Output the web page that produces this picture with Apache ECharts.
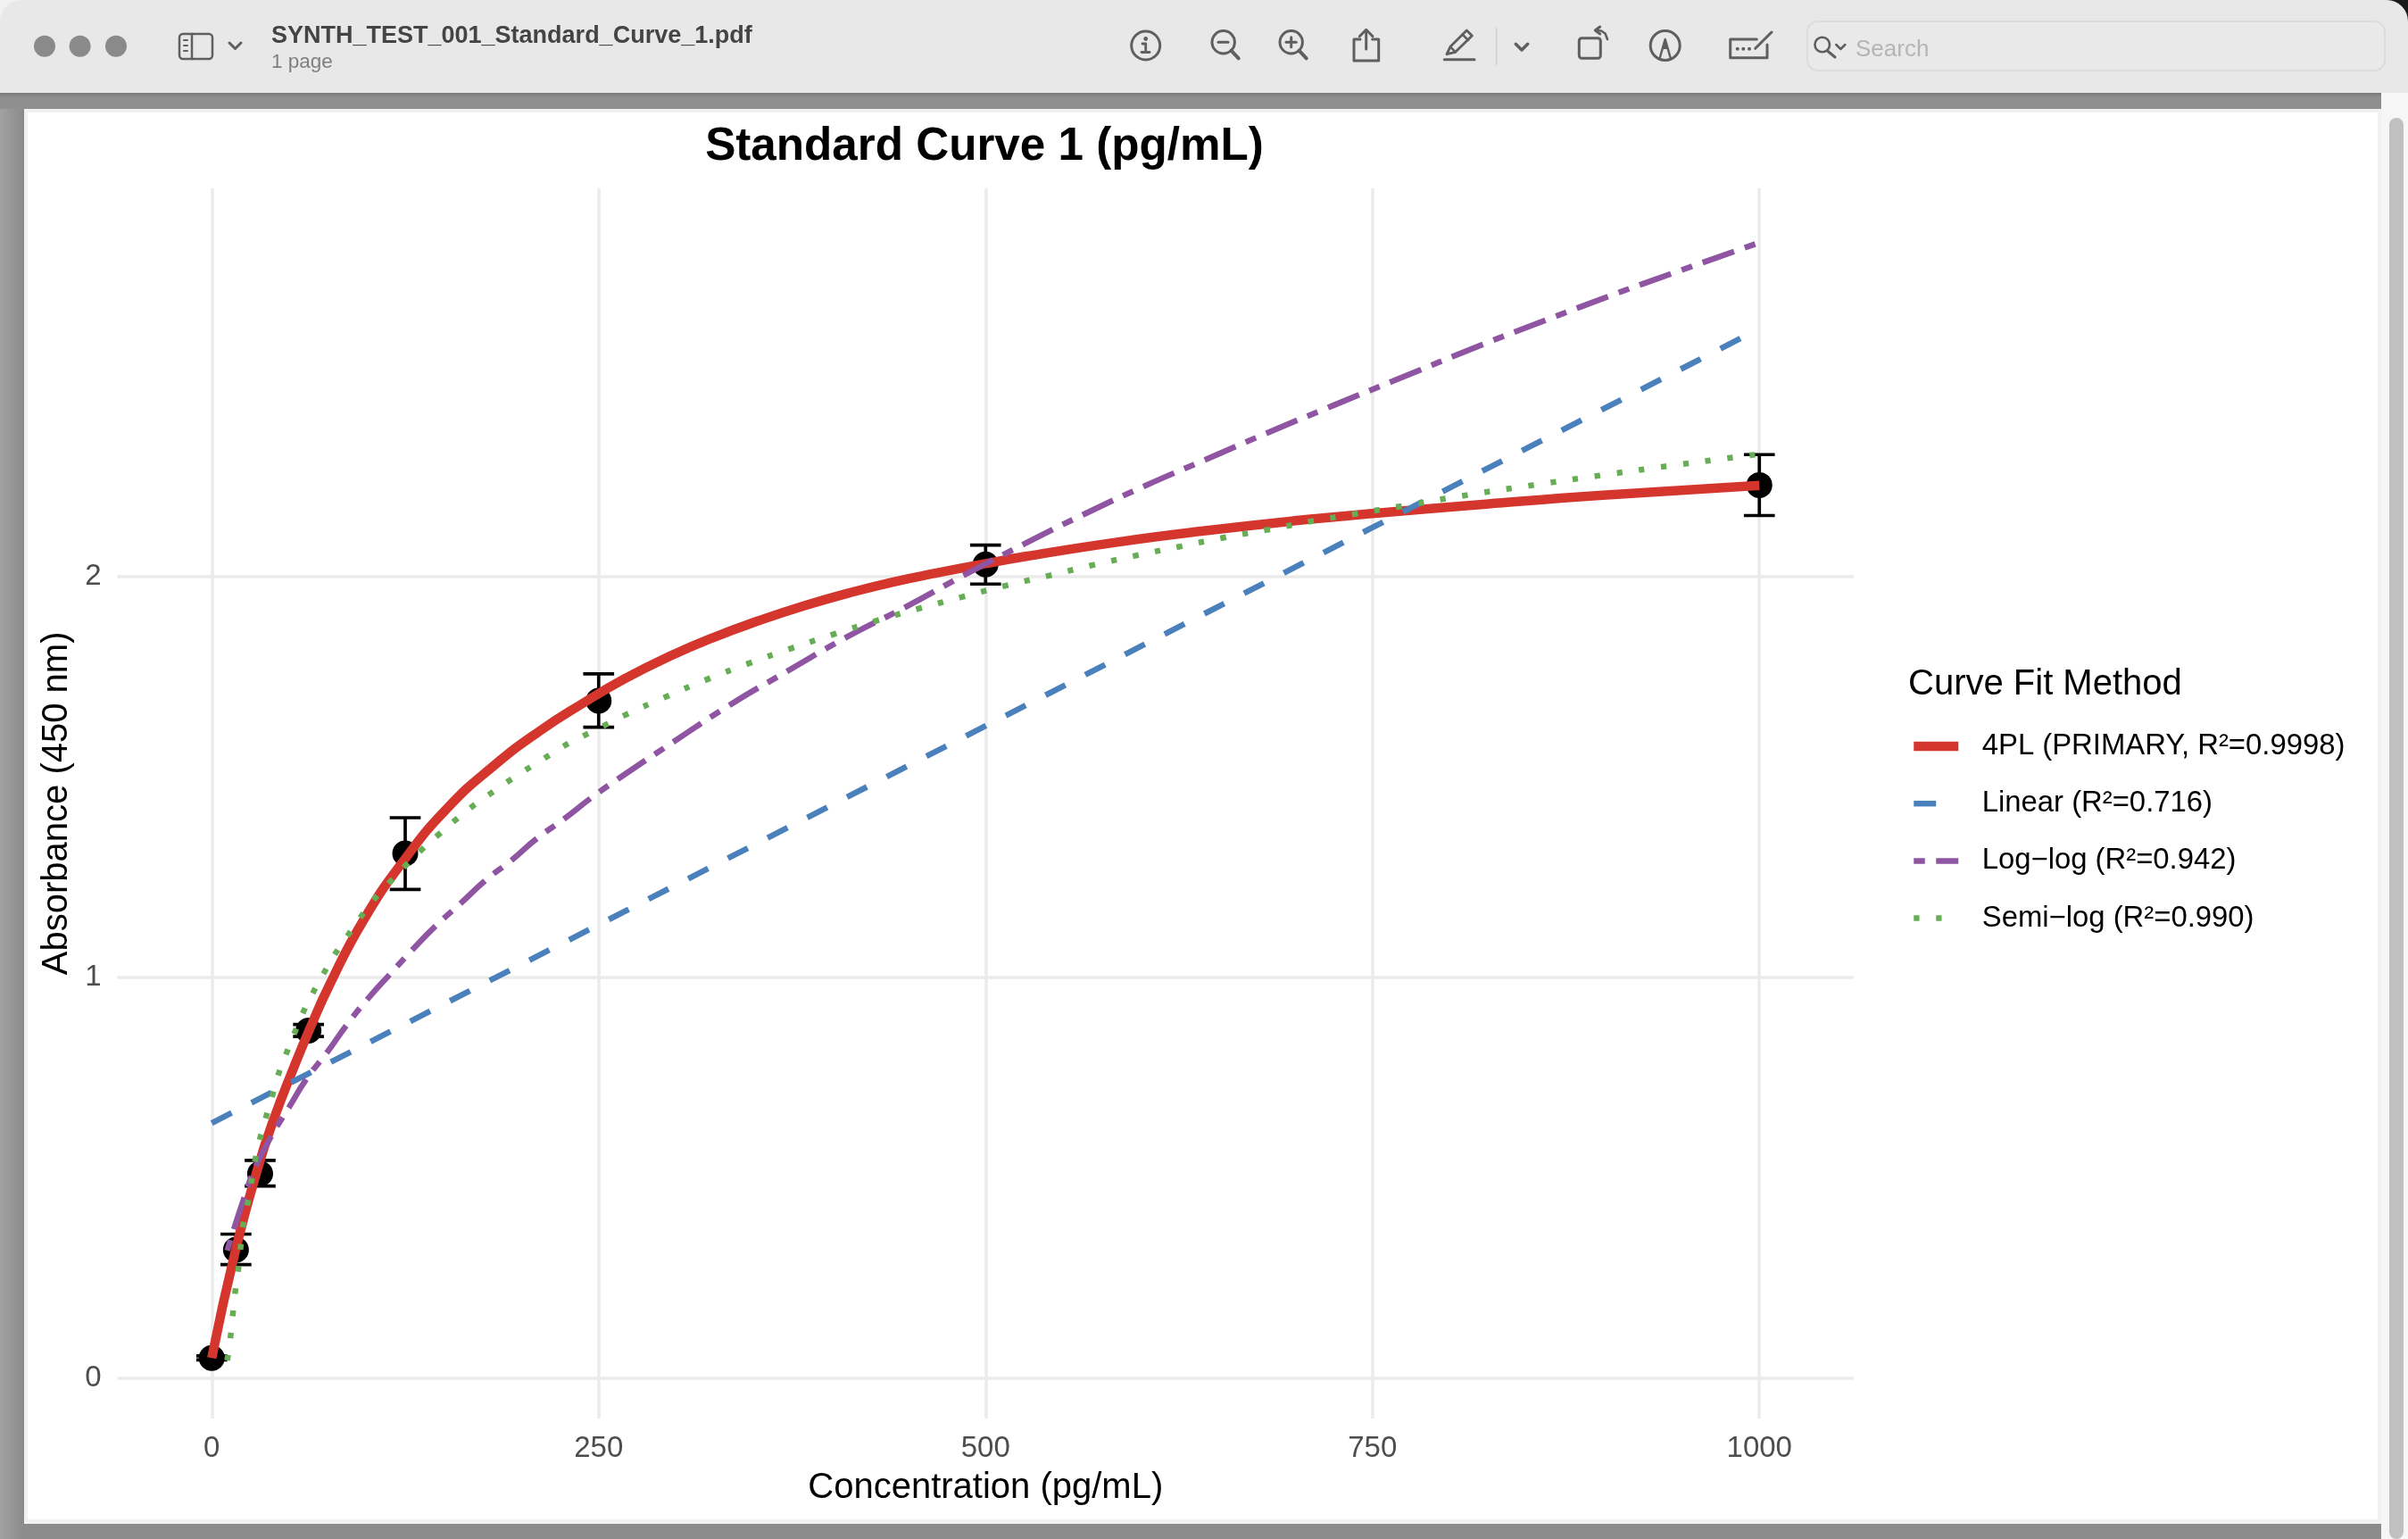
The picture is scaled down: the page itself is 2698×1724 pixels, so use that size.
<!DOCTYPE html>
<html>
<head>
<meta charset="utf-8">
<style>
html,body{margin:0;padding:0;background:#8f8f8f;}
#chart{width:2698px;height:1724px;}
</style>
<script src="https://cdn.jsdelivr.net/npm/echarts@6/dist/echarts.min.js"></script>
</head>
<body>
<div id="chart"></div>
<script>
// measured standards
const concentrations = [0, 15.625, 31.25, 62.5, 125, 250, 500, 1000];
const absorbance = [0.05, 0.32, 0.51, 0.867, 1.309, 1.69, 2.03, 2.228];
const errLow = [0.045, 0.283, 0.479, 0.852, 1.219, 1.624, 1.981, 2.152];
const errHigh = [0.055, 0.359, 0.543, 0.882, 1.398, 1.757, 2.078, 2.304];

// fitted curves
const fit4plX = [0, 15, 30, 40, 53, 63, 76, 98, 125, 153, 182, 211, 240, 267, 296, 325, 353, 382, 411, 440, 469, 500, 526, 584, 642, 700, 750, 825, 901, 1000];
const fit4plY = [0.05, 0.313, 0.527, 0.645, 0.775, 0.868, 0.98, 1.142, 1.296, 1.425, 1.527, 1.612, 1.684, 1.745, 1.801, 1.849, 1.889, 1.926, 1.958, 1.986, 2.009, 2.032, 2.05, 2.085, 2.114, 2.139, 2.157, 2.181, 2.203, 2.227];
const linearX = [0, 250, 500, 750, 1000];
const linearY = [0.636, 1.131, 1.627, 2.122, 2.618];
const logLogX = [10, 15, 21, 27.5, 38, 50, 61, 75, 87, 101, 115, 130, 145, 161, 177, 194, 210, 228, 245, 263, 299, 335, 373, 410, 449, 486, 526, 564, 603, 643, 682, 723, 763, 822, 863, 904, 945, 986, 1000];
const logLogY = [0.318, 0.38, 0.45, 0.52, 0.6, 0.676, 0.745, 0.815, 0.88, 0.947, 1.007, 1.07, 1.129, 1.185, 1.242, 1.293, 1.346, 1.396, 1.447, 1.496, 1.589, 1.68, 1.766, 1.848, 1.925, 2.003, 2.083, 2.156, 2.226, 2.293, 2.358, 2.424, 2.487, 2.58, 2.641, 2.701, 2.758, 2.814, 2.833];
const semiLogX = [10, 12, 13.5, 15, 17, 18.5, 20, 23, 28, 31, 35, 39, 43, 48, 53.5, 59, 65.5, 72.5, 80, 88, 96, 105, 115, 125, 135, 146, 157, 168, 180, 192, 204, 216, 228, 241, 254, 267, 293, 320, 347, 374, 402, 429, 457, 485, 513, 541, 569, 597, 626, 654, 683, 711, 740, 768, 811, 854, 897, 940, 983, 1000];
const semiLogY = [0.044, 0.1, 0.155, 0.211, 0.266, 0.3215, 0.3765, 0.431, 0.543, 0.595, 0.65, 0.703, 0.757, 0.808, 0.861, 0.912, 0.962, 1.011, 1.06, 1.105, 1.149, 1.195, 1.237, 1.278, 1.316, 1.354, 1.391, 1.425, 1.458, 1.49, 1.52, 1.549, 1.578, 1.604, 1.629, 1.654, 1.699, 1.743, 1.783, 1.82, 1.856, 1.889, 1.92, 1.949, 1.977, 2.002, 2.028, 2.052, 2.075, 2.097, 2.117, 2.138, 2.157, 2.175, 2.203, 2.228, 2.252, 2.275, 2.297, 2.305];

const xTicks = [0, 250, 500, 750, 1000];
const yTicks = [0, 1, 2];
const legendNames = ['4PL (PRIMARY, R²=0.9998)', 'Linear (R²=0.716)', 'Log−log (R²=0.942)', 'Semi−log (R²=0.990)'];

const FONT = '"Liberation Sans", Arial, sans-serif';
const ICON = '#5f5f5f';

function zip(xs, ys) {
    return xs.map((x, i) => [x, ys[i]]);
}

// window chrome helpers
function box(x, y, w, h, fill, r, z) {
    return {type: 'rect', z: z === undefined ? -10 : z, silent: true, shape: {x: x, y: y, width: w, height: h, r: r || 0}, style: {fill: fill}};
}
function stroke(points, width, color) {
    return {type: 'polyline', z: -5, silent: true, shape: {points: points}, style: {fill: null, stroke: color || ICON, lineWidth: width || 3, lineCap: 'round', lineJoin: 'round'}};
}
function ring(cx, cy, r, width) {
    return {type: 'circle', z: -5, silent: true, shape: {cx: cx, cy: cy, r: r}, style: {fill: null, stroke: ICON, lineWidth: width || 3}};
}
function dot(cx, cy, r, color) {
    return {type: 'circle', z: -5, silent: true, shape: {cx: cx, cy: cy, r: r}, style: {fill: color || ICON}};
}
function label(text, x, y, size, color, weight) {
    return {type: 'text', z: -5, silent: true, style: {text: text, x: x, y: y, fontSize: size, fontFamily: FONT, fontWeight: weight || 'normal', fill: color, textVerticalAlign: 'middle'}};
}

const chrome = [
    // corners behind the toolbar
    box(0, 0, 30, 30, '#f2f2f2', 0, -12),
    box(2668, 0, 30, 30, '#1a1a1a', 0, -12),
    box(0, 104, 2698, 18, {type: 'linear', x: 0, y: 0, x2: 0, y2: 1, colorStops: [{offset: 0, color: '#7b7b7b'}, {offset: 0.3, color: '#8e8e8e'}, {offset: 1, color: '#909090'}]}),
    box(0, 0, 2698, 104, '#e8e8e8', [24, 24, 0, 0]),
    box(0, 122, 27, 1602, {type: 'linear', x: 0, y: 0, x2: 1, y2: 0, colorStops: [{offset: 0, color: '#a2a2a2'}, {offset: 1, color: '#8a8a8a'}]}),
    box(27, 1707, 2641, 17, '#8c8c8c'),
    box(27, 122, 2641, 1585, '#f1f1f1'),
    box(31, 126, 2633, 1576, '#ffffff'),
    box(2668, 104, 30, 1620, '#f6f6f6'),
    box(2677, 132, 16, 1592, '#c0c0c0', 8),

    dot(50, 51.7, 12, '#8a8a8a'),
    dot(89.6, 51.7, 12, '#8a8a8a'),
    dot(130, 51.7, 12, '#8a8a8a'),

    // sidebar toggle
    {type: 'rect', z: -5, silent: true, shape: {x: 201, y: 38, width: 37, height: 28, r: 4}, style: {fill: null, stroke: ICON, lineWidth: 2.5}},
    stroke([[215, 38], [215, 66]], 2.5),
    stroke([[206, 45], [210, 45]], 2),
    stroke([[206, 51], [210, 51]], 2),
    stroke([[206, 57], [210, 57]], 2),
    stroke([[257, 48], [263.5, 54.5], [270, 48]], 3),

    label('SYNTH_TEST_001_Standard_Curve_1.pdf', 304, 41, 27, '#444444', 'bold'),
    label('1 page', 304, 70, 22.5, '#7f7f7f'),

    // info
    ring(1283.7, 51, 16),
    dot(1283.7, 43.5, 2.4),
    stroke([[1280, 49], [1283.7, 49], [1283.7, 58.5]], 2.8),
    stroke([[1279, 58.5], [1288, 58.5]], 2.8),
    // zoom out
    ring(1370.7, 47.3, 12.7),
    stroke([[1379.5, 56.7], [1387.7, 65.3]], 4),
    stroke([[1365, 47.3], [1376, 47.3]], 3),
    // zoom in
    ring(1446.7, 47.3, 12.7),
    stroke([[1455.5, 56.7], [1463.7, 65.3]], 4),
    stroke([[1441, 47.3], [1452.3, 47.3]], 3),
    stroke([[1446.7, 41.7], [1446.7, 52.7]], 3),
    // share
    stroke([[1524, 44], [1517, 44], [1517, 68], [1544.7, 68], [1544.7, 44], [1537.7, 44]], 3),
    stroke([[1530.7, 34], [1530.7, 55]], 3),
    stroke([[1523.3, 40.7], [1530.7, 33.3], [1538, 40.7]], 3),
    // pencil
    stroke([[1618.3, 66.7], [1652, 66.7]], 3),
    stroke([[1621, 60.7], [1625, 52.3], [1643.3, 34], [1649.3, 40], [1630.7, 58.3], [1621, 60.7]], 2.8),
    stroke([[1625, 52.3], [1630.7, 58.3]], 2.5),
    stroke([[1638.5, 38.5], [1645, 45]], 2.5),
    stroke([[1676.7, 32], [1676.7, 72]], 2, '#d4d4d4'),
    stroke([[1698.3, 49.3], [1705, 56], [1711.7, 49.3]], 3.5),
    // rotate
    {type: 'rect', z: -5, silent: true, shape: {x: 1769.3, y: 42.7, width: 24, height: 22.6, r: 3}, style: {fill: null, stroke: ICON, lineWidth: 3}},
    stroke([[1792.7, 30], [1787.3, 34], [1792.7, 38]], 3),
    stroke([[1788, 34], [1794, 34.5], [1798.5, 37.5], [1801, 44]], 2.6),
    // markup
    ring(1865.7, 51, 16.5),
    stroke([[1859.7, 65], [1865.7, 44], [1871.7, 65]], 2.5),
    {type: 'polygon', z: -5, silent: true, shape: {points: [[1865.7, 44], [1862.3, 55], [1869.1, 55]]}, style: {fill: ICON}},
    // signature
    stroke([[1968.3, 44], [1938.7, 44], [1938.7, 64.7], [1980, 64.7], [1980, 50]], 3),
    dot(1946.7, 54.7, 2),
    dot(1953.3, 54.7, 2),
    dot(1960, 54.7, 2),
    stroke([[1966.7, 54.3], [1985, 36]], 3),
    // search field
    {type: 'rect', z: -5, silent: true, shape: {x: 2025, y: 24, width: 647, height: 55, r: 12}, style: {fill: '#e9e9e9', stroke: '#dcdcdc', lineWidth: 2}},
    ring(2041.7, 50, 8.3, 2.6),
    stroke([[2047.5, 57], [2056, 64]], 3),
    stroke([[2057.3, 50], [2062.3, 55], [2067.3, 50]], 2.5),
    label('Search', 2079, 55.5, 26, '#b5b5b5')
];

const chart = echarts.init(document.getElementById('chart'));

chart.setOption({
    animation: false,
    backgroundColor: '#8f8f8f',
    graphic: {elements: chrome},
    title: [
        {
            text: 'Standard Curve 1 (pg/mL)',
            left: 1098, top: 134, textAlign: 'center',
            textStyle: {fontFamily: FONT, fontSize: 51.2, fontWeight: 'bold', color: '#000'}
        },
        {
            text: 'Curve Fit Method',
            left: 2133, top: 742,
            textStyle: {fontFamily: FONT, fontSize: 40, fontWeight: 'normal', color: '#000'}
        }
    ],
    grid: {left: 131.5, top: 210.7, width: 1945.5, height: 1378.3, containLabel: false},
    xAxis: {
        type: 'value', min: -61, max: 1061,
        name: 'Concentration (pg/mL)', nameLocation: 'middle', nameGap: 58,
        nameTextStyle: {fontFamily: FONT, fontSize: 40, color: '#000'},
        axisLine: {show: false},
        axisTick: {show: false, customValues: xTicks},
        axisLabel: {customValues: xTicks, margin: 17, fontFamily: FONT, fontSize: 33, color: '#4d4d4d', formatter: v => String(v)},
        splitLine: {show: true, lineStyle: {color: '#ebebeb', width: 3.5}}
    },
    yAxis: {
        type: 'value', min: -0.101, max: 2.969,
        name: 'Absorbance (450 nm)', nameLocation: 'middle', nameGap: 44, nameRotate: 90,
        nameTextStyle: {fontFamily: FONT, fontSize: 40, color: '#000'},
        axisLine: {show: false},
        axisTick: {show: false, customValues: yTicks},
        axisLabel: {customValues: yTicks, margin: 18, fontFamily: FONT, fontSize: 33, color: '#4d4d4d', padding: [3, 0, 0, 0], formatter: v => String(v)},
        splitLine: {show: true, lineStyle: {color: '#ebebeb', width: 3.5}}
    },
    legend: {
        orient: 'vertical', left: 2134, top: 814.5,
        itemWidth: 50, itemHeight: 14, itemGap: 31.2,
        itemStyle: {opacity: 0},
        lineStyle: {width: 6.5},
        data: [
            {name: legendNames[0], lineStyle: {width: 10.5}},
            {name: legendNames[1]},
            {name: legendNames[2]},
            {name: legendNames[3]}
        ],
        textStyle: {fontFamily: FONT, fontSize: 32.85, color: '#000', padding: [0, 0, 0, 21.5]}
    },
    series: [
        {
            type: 'custom', name: 'errors', z: 2,
            data: concentrations.map((c, i) => [c, errLow[i], errHigh[i]]),
            encode: {x: 0, y: [1, 2]},
            renderItem: function (params, api) {
                const x = api.value(0);
                const low = api.coord([x, api.value(1)]);
                const high = api.coord([x, api.value(2)]);
                const capL = api.coord([x - 10, 0])[0];
                const capR = api.coord([x + 10, 0])[0];
                const style = {stroke: '#000', lineWidth: 3.7};
                return {
                    type: 'group',
                    children: [
                        {type: 'line', shape: {x1: low[0], y1: low[1], x2: high[0], y2: high[1]}, style: style},
                        {type: 'line', shape: {x1: capL, y1: low[1], x2: capR, y2: low[1]}, style: style},
                        {type: 'line', shape: {x1: capL, y1: high[1], x2: capR, y2: high[1]}, style: style}
                    ]
                };
            }
        },
        {
            type: 'scatter', name: 'standards', z: 3,
            data: zip(concentrations, absorbance),
            symbolSize: 29,
            itemStyle: {color: '#000', opacity: 1}
        },
        {
            type: 'line', name: legendNames[0], z: 4,
            data: zip(fit4plX, fit4plY),
            showSymbol: false, symbol: 'none', smooth: 0.5,
            lineStyle: {color: '#d4352c', width: 10.5, cap: 'butt'},
            itemStyle: {color: '#d4352c'}
        },
        {
            type: 'line', name: legendNames[1], z: 5,
            data: zip(linearX, linearY),
            showSymbol: false, symbol: 'none',
            lineStyle: {color: '#4a80bb', width: 6.5, type: [25, 25], cap: 'butt'},
            itemStyle: {color: '#4a80bb'}
        },
        {
            type: 'line', name: legendNames[2], z: 6,
            data: zip(logLogX, logLogY),
            showSymbol: false, symbol: 'none', smooth: 0.5,
            lineStyle: {color: '#9055a2', width: 6.5, type: [12.5, 12.5, 37.5, 12.5], cap: 'butt'},
            itemStyle: {color: '#9055a2'}
        },
        {
            type: 'line', name: legendNames[3], z: 7,
            data: zip(semiLogX, semiLogY),
            showSymbol: false, symbol: 'none', smooth: 0.5,
            lineStyle: {color: '#66ad55', width: 6.5, type: [6.25, 18.75], cap: 'butt'},
            itemStyle: {color: '#66ad55'}
        }
    ]
});
</script>
</body>
</html>
